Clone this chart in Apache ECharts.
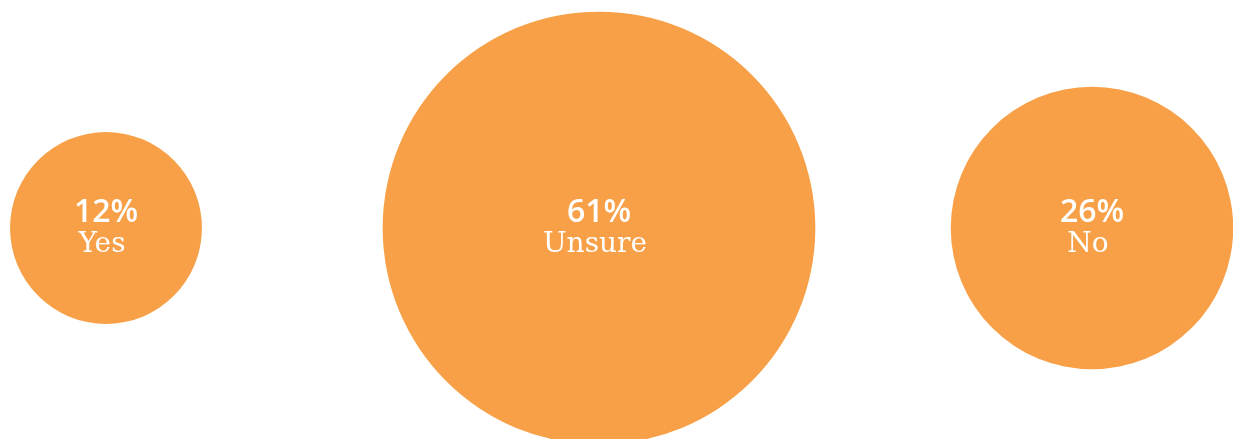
<!DOCTYPE html>
<html>
<head>
<meta charset="utf-8">
<title>Responses</title>
<script src="https://cdn.jsdelivr.net/npm/echarts@6/dist/echarts.min.js"></script>
<style>
  html, body { margin: 0; padding: 0; background: #ffffff; }
  #chart { width: 1233px; height: 439px; }
</style>
</head>
<body>
<div id="chart"></div>
<script>
// Answers and their share of responses (%)
const categories = ['Yes', 'Unsure', 'No'];
const shares = [12, 61, 26];

// Circle area is proportional to the share
const SIZE_PER_ROOT = 55.4;

const chart = echarts.init(document.getElementById('chart'), null, { renderer: 'canvas' });

const points = categories.map((name, i) => ({
  name: name,
  value: [i, 0, shares[i]]
}));

chart.setOption({
  animation: false,
  grid: { left: 106, right: 141, top: 128, height: 200 },
  xAxis: { type: 'value', min: 0, max: categories.length - 1, show: false },
  yAxis: { type: 'value', min: -1, max: 1, show: false },
  series: [{
    type: 'scatter',
    clip: false,
    data: points,
    symbol: 'circle',
    symbolSize: v => SIZE_PER_ROOT * Math.sqrt(v[2]),
    itemStyle: { color: '#F7A047', opacity: 1 },
    emphasis: { disabled: true },
    label: {
      show: true,
      position: 'inside',
      offset: [0, 1],
      formatter: p => '{p|' + p.value[2] + '%}\n{l|' + p.name + '}',
      rich: {
        p: {
          fontFamily: '"Open Sans", sans-serif',
          fontWeight: 600,
          fontSize: 32,
          lineHeight: 32,
          color: '#ffffff'
        },
        l: {
          fontFamily: '"DejaVu Serif", serif',
          fontWeight: 'normal',
          fontSize: 28,
          lineHeight: 32,
          padding: [0, 8, 0, 0],
          color: '#ffffff'
        }
      }
    }
  }]
});
</script>
</body>
</html>
